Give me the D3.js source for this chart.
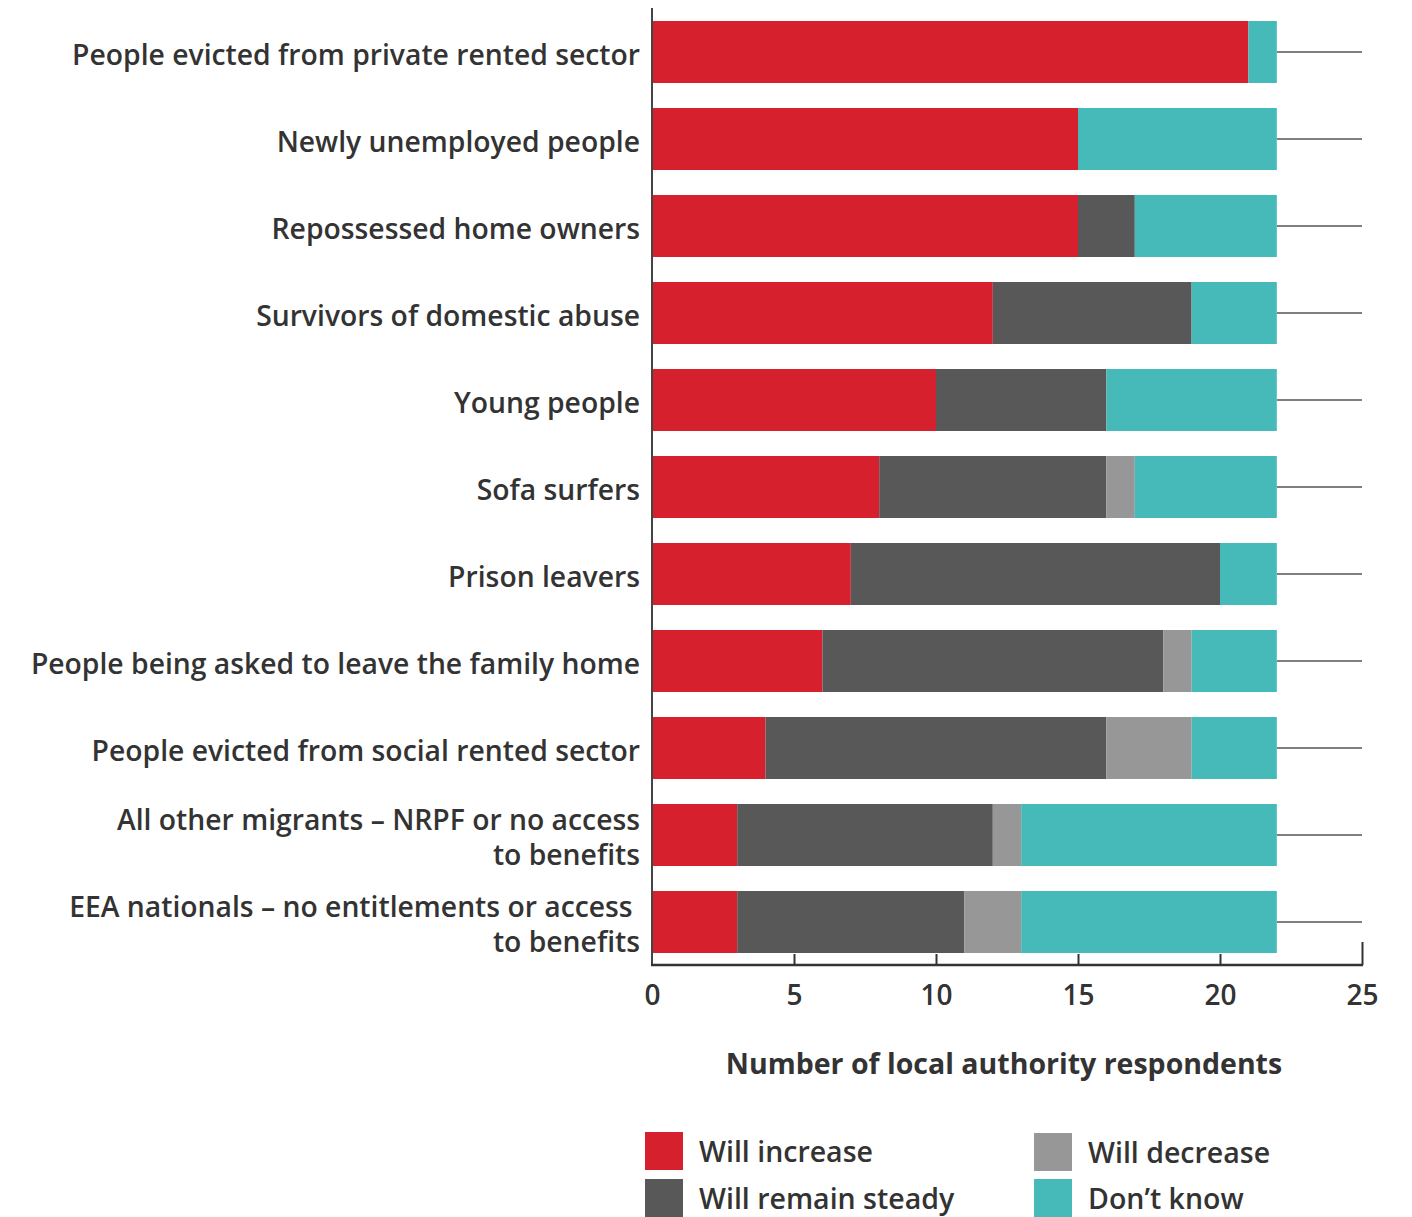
<!DOCTYPE html>
<html>
<head>
<meta charset="utf-8">
<script src="https://cdn.jsdelivr.net/npm/d3@7"></script>
<style>
  html, body { margin: 0; padding: 0; background: #fff; }
  svg { display: block; font-family: "Open Sans", "Lato", sans-serif; }
</style>
</head>
<body>
<svg id="chart" width="1412" height="1217"></svg>
<script>
// Groups of people, top to bottom; "\n" splits a label over two lines
const categories = [
  "People evicted from private rented sector",
  "Newly unemployed people",
  "Repossessed home owners",
  "Survivors of domestic abuse",
  "Young people",
  "Sofa surfers",
  "Prison leavers",
  "People being asked to leave the family home",
  "People evicted from social rented sector",
  "All other migrants – NRPF or no access\nto benefits",
  "EEA nationals – no entitlements or access\u00a0\nto benefits"
];

// Number of local authority respondents per answer
const willIncrease     = [21, 15, 15, 12, 10, 8, 7, 6, 4, 3, 3];
const willRemainSteady = [0, 0, 2, 7, 6, 8, 13, 12, 12, 9, 8];
const willDecrease     = [0, 0, 0, 0, 0, 1, 0, 1, 3, 1, 2];
const dontKnow         = [1, 7, 5, 3, 6, 5, 2, 3, 3, 9, 9];

const seriesNames = ["Will increase", "Will remain steady", "Will decrease", "Don\u2019t know"];
const seriesColors = ["#d6202e", "#575857", "#979797", "#46b9b9"];
const xTicks = [0, 5, 10, 15, 20, 25];
const xTitle = "Number of local authority respondents";

const rows = categories.map((c, i) => ({
  category: c,
  "Will increase": willIncrease[i],
  "Will remain steady": willRemainSteady[i],
  "Will decrease": willDecrease[i],
  "Don\u2019t know": dontKnow[i]
}));

const svg = d3.select("#chart");
const plotLeft = 652, plotRight = 1362;
const axisY = 965;

const x = d3.scaleLinear().domain([0, 25]).range([plotLeft, plotRight]);
// 87px step, 62px bars
const y = d3.scaleBand().domain(categories).range([21, 953])
  .paddingInner(25 / 87).paddingOuter(0);

const stacked = d3.stack().keys(seriesNames)(rows);
const color = d3.scaleOrdinal().domain(seriesNames).range(seriesColors);

// Connector lines from the end of each bar to the right edge
const totals = rows.map(r => seriesNames.reduce((s, k) => s + r[k], 0));
svg.append("g").selectAll("line").data(categories).join("line")
  .attr("x1", (d, i) => x(totals[i]))
  .attr("x2", x(25))
  .attr("y1", d => y(d) + y.bandwidth() / 2)
  .attr("y2", d => y(d) + y.bandwidth() / 2)
  .attr("stroke", "#555")
  .attr("stroke-width", 1.5);

// Stacked bars
svg.append("g").selectAll("g").data(stacked).join("g")
  .attr("fill", d => color(d.key))
  .selectAll("rect").data(d => d).join("rect")
  .attr("x", d => x(d[0]))
  .attr("width", d => x(d[1]) - x(d[0]))
  .attr("y", (d, i) => y(categories[i]))
  .attr("height", y.bandwidth());

// Vertical axis line
svg.append("line")
  .attr("x1", x(0)).attr("x2", x(0))
  .attr("y1", 8).attr("y2", axisY)
  .attr("stroke", "#444").attr("stroke-width", 2);

// Horizontal axis with ticks pointing up into the plot
const xAxis = d3.axisBottom(x).tickValues(xTicks).tickSize(0).tickPadding(20);
const gx = svg.append("g").attr("transform", `translate(0,${axisY})`).call(xAxis);
gx.select(".domain").remove();
gx.append("line").attr("x1", x(0) - 1).attr("x2", x(25) + 1)
  .attr("stroke", "#333").attr("stroke-width", 2.5);
gx.selectAll(".tick").append("line")
  .attr("y1", 0)
  .attr("y2", d => d === 25 ? -23 : (d === 0 ? 0 : -11))
  .attr("stroke", "#333").attr("stroke-width", 2);
gx.selectAll(".tick text")
  .attr("fill", "#333")
  .attr("font-size", 28)
  .attr("font-weight", 600)
  .attr("font-family", "'Open Sans', sans-serif");

// Axis title
svg.append("text")
  .attr("x", (727 + 1281) / 2).attr("y", 1066)
  .attr("text-anchor", "middle").attr("dominant-baseline", "middle")
  .attr("font-size", 28.5).attr("font-weight", 700).attr("fill", "#333")
  .text(xTitle);

// Category labels
const lbl = svg.append("g").selectAll("text").data(categories).join("text")
  .attr("text-anchor", "end")
  .attr("font-size", 28.3)
  .attr("font-weight", 600)
  .attr("fill", "#333")
  .attr("transform", d => `translate(640,${y(d) + y.bandwidth() / 2 + 5})`);
lbl.each(function(d) {
  const lines = d.split("\n");
  const t = d3.select(this);
  lines.forEach((ln, j) => {
    t.append("tspan")
      .attr("x", 0)
      .attr("y", (j - (lines.length - 1) / 2) * 35)
      .attr("dominant-baseline", "middle")
      .attr("xml:space", "preserve")
      .text(ln);
  });
});

// Legend
const legendPos = [
  { x: 645, y: 1132 }, { x: 645, y: 1179 },
  { x: 1034, y: 1133 }, { x: 1034, y: 1179 }
];
const lg = svg.append("g").selectAll("g").data(seriesNames).join("g")
  .attr("transform", (d, i) => `translate(${legendPos[i].x},${legendPos[i].y})`);
lg.append("rect").attr("width", 38).attr("height", 38).attr("fill", d => color(d));
lg.append("text")
  .attr("x", 54).attr("y", 22)
  .attr("dominant-baseline", "middle")
  .attr("font-size", 28.5).attr("font-weight", 600).attr("fill", "#333")
  .text(d => d);
</script>
</body>
</html>
